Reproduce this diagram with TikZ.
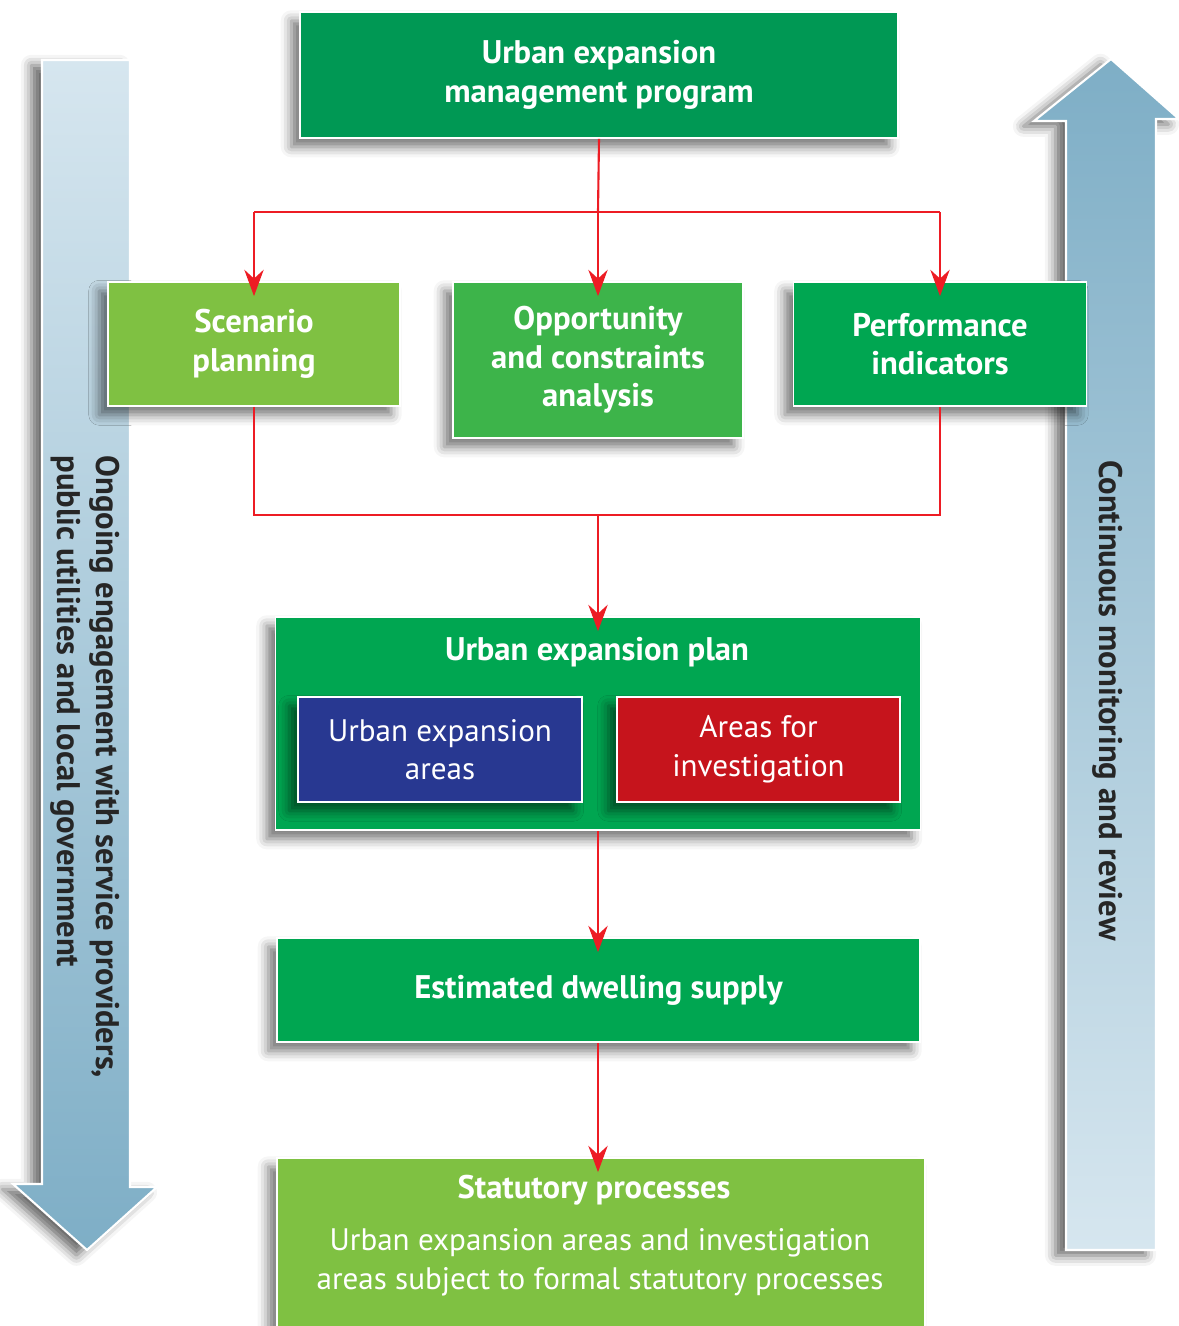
\documentclass[tikz,border=0pt]{standalone}
\usepackage{fontspec}
\setmainfont{PT Sans}
\usepackage{tikz}
\usetikzlibrary{arrows.meta,shadows.blur}

\definecolor{topgreen}{RGB}{0,152,84}
\definecolor{midgreen}{RGB}{0,166,81}
\definecolor{oppgreen}{RGB}{61,180,74}
\definecolor{lightgreen}{RGB}{127,193,66}
\definecolor{areablue}{RGB}{40,56,145}
\definecolor{areared}{RGB}{198,20,28}
\definecolor{linered}{RGB}{237,28,36}
\definecolor{arrowlight}{RGB}{214,230,239}
\definecolor{arrowdark}{RGB}{126,174,198}

\begin{document}
\begin{tikzpicture}[x=0.02cm,y=-0.02cm,
    box/.style={draw=white,line width=1pt,text=white,align=center,inner sep=0pt,
        font=\fontsize{18.6}{22}\selectfont\bfseries,
        blur shadow={shadow xshift=-5pt,shadow yshift=-5pt,shadow opacity=55,shadow blur radius=6pt}},
    subbox/.style={box,font=\fontsize{17.7}{22}\selectfont},
    flow/.style={linered,line width=1.2pt,-{Stealth[length=15pt,width=11pt,inset=5pt]},shorten >=-0.3cm},
    link/.style={linered,line width=1.2pt},
    bigarrow/.style={draw=white,line width=1.2pt,
        blur shadow={shadow xshift=-6pt,shadow yshift=-3pt,shadow opacity=60,shadow blur radius=6pt}},
    side/.style={rotate=-90,anchor=west,align=left,inner sep=0pt,text=black!85,
        font=\fontsize{18.6}{22.5}\selectfont\bfseries}]
    \clip (0,0) rectangle (1179,1326);

    % side arrows
    \shade[bigarrow,top color=arrowlight,bottom color=arrowdark]
        (42,60) -- (130,60) -- (130,1187) -- (157,1187) -- (87,1250) -- (13,1184) -- (42,1184) -- cycle;
    \shade[bigarrow,top color=arrowdark,bottom color=arrowlight]
        (1066,1250) -- (1066,121) -- (1034,121) -- (1111,59) -- (1179,119) -- (1156,119) -- (1156,1250) -- cycle;
    \node[side] (engage) at (85,455) {Ongoing engagement with service providers,\\public utilities and local government};
    \node[side] (monitor) at (1108,460) {Continuous monitoring and review};

    % boxes
    \node[box,fill=topgreen,minimum width=11.96cm,minimum height=2.52cm] (program) at (599,75) {Urban expansion\\management program};
    \node[box,fill=lightgreen,minimum width=5.84cm,minimum height=2.48cm] (scenario) at (254,344) {Scenario\\planning};
    \node[box,fill=oppgreen,minimum width=5.8cm,minimum height=3.12cm,text depth=4pt] (opportunity) at (598,360) {Opportunity\\and constraints\\analysis};
    \node[box,fill=midgreen,minimum width=5.86cm,minimum height=2.48cm] (indicators) at (940,344) {Performance\\indicators};

    \node[box,fill=midgreen,minimum width=12.9cm,minimum height=4.26cm] (plan) at (598,723.5) {};
    \node[text=white,font=\fontsize{18.6}{22}\selectfont\bfseries] (plantitle) at (597,652) {Urban expansion plan};
    \node[subbox,fill=areablue,minimum width=5.68cm,minimum height=2.1cm] (expansion) at (440,749.5) {Urban expansion\\areas};
    \node[subbox,fill=areared,minimum width=5.66cm,minimum height=2.1cm] (investigate) at (758.5,749.5) {Areas for\\investigation};

    \node[box,fill=midgreen,minimum width=12.86cm,minimum height=2.08cm] (supply) at (598.5,990) {Estimated dwelling supply};

    \node[box,fill=lightgreen,minimum width=12.96cm,minimum height=3.8cm] (statutory) at (601,1253) {};
    \node[text=white,font=\fontsize{18.6}{22}\selectfont\bfseries] (stattitle) at (594,1190) {Statutory processes};
    \node[text=white,align=center,font=\fontsize{17.7}{22}\selectfont] (statbody) at (600,1262) {Urban expansion areas and investigation\\areas subject to formal statutory processes};

    % connectors
    \coordinate (split) at (598,212);
    \coordinate (join) at (598,515);
    \draw[link] (split -| scenario) -- (split -| indicators);
    \draw[link] (program.south) -- (split);
    \draw[flow] (split) -- (opportunity.north);
    \draw[flow] (split -| scenario) -- (scenario.north);
    \draw[flow] (split -| indicators) -- (indicators.north);
    \draw[link] (scenario.south) |- (join) -| (indicators.south);
    \draw[flow] (join) -- (join |- plan.north);
    \draw[flow] (join |- plan.south) -- (join |- supply.north);
    \draw[flow] (join |- supply.south) -- (join |- statutory.north);
\end{tikzpicture}
\end{document}
